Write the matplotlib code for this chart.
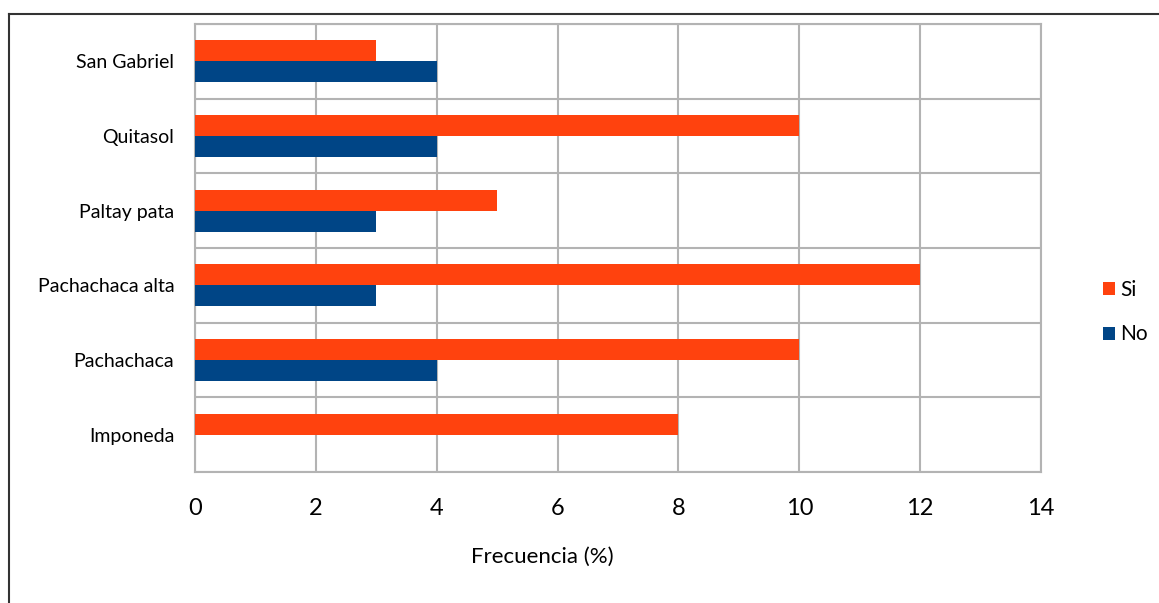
import matplotlib
matplotlib.use("Agg")
import matplotlib.pyplot as plt
from matplotlib.lines import Line2D
from matplotlib.patches import Patch
import numpy as np

categories = ["Imponeda", "Pachachaca", "Pachachaca alta", "Paltay pata", "Quitasol", "San Gabriel"]
si_values = [8, 10, 12, 5, 10, 3]
no_values = [0, 4, 3, 3, 4, 4]
x_ticks = [0, 2, 4, 6, 8, 10, 12, 14]
series_names = ["Si", "No"]

plt.rcParams['font.family'] = ['Lato', 'DejaVu Sans']

W, H = 1159, 603
fig = plt.figure(figsize=(W / 100, H / 100), dpi=100)
ax = fig.add_axes([195 / W, 1 - 472 / H, (1041 - 195) / W, (472 - 24) / H])

grid_c = "#b3b3b3"
si_c = "#ff420e"
no_c = "#004586"
bh = 0.28
y = np.arange(len(categories))
ax.barh(y + bh / 2, si_values, height=bh, color=si_c, zorder=3, label=series_names[0])
ax.barh(y - bh / 2, no_values, height=bh, color=no_c, zorder=3, label=series_names[1])

ax.set_xlim(0, 14)
ax.set_ylim(-0.5, len(categories) - 0.5)
ax.set_xticks(x_ticks)
ax.set_xticklabels([str(v) for v in x_ticks], fontsize=17)
ax.set_yticks(y)
ax.set_yticklabels(categories, fontsize=14)
ax.set_yticks(np.arange(len(categories) + 1) - 0.5, minor=True)
ax.tick_params(axis='x', length=0, pad=19)
ax.tick_params(axis='y', which='both', length=0, pad=15)
ax.grid(True, axis='x', color=grid_c, linewidth=1.5, zorder=0)
ax.grid(True, axis='y', which='minor', color=grid_c, linewidth=1.5, zorder=0)
ax.grid(False, axis='y', which='major')
for s in ax.spines.values():
    s.set_color(grid_c)
    s.set_linewidth(1.5)

fig.text(542 / W, 1 - 557 / H, "Frecuencia (%)", ha='center', va='center', fontsize=16)

handles = [Patch(facecolor=si_c), Patch(facecolor=no_c)]
fig.legend(handles, series_names, loc='center left', bbox_to_anchor=(1103 / W, 1 - 312 / H),
           frameon=False, fontsize=15, handlelength=0.58, handleheight=0.58,
           handletextpad=0.25, labelspacing=1.2, borderpad=0, borderaxespad=0)

# figure frame
fig.add_artist(Line2D([8.5 / W, 8.5 / W], [0, 1 - 13.5 / H], transform=fig.transFigure,
                      color="#333333", linewidth=1.5))
fig.add_artist(Line2D([8.5 / W, 1], [1 - 13.5 / H, 1 - 13.5 / H], transform=fig.transFigure,
                      color="#333333", linewidth=1.5))

fig.savefig("out.png", dpi=100)
